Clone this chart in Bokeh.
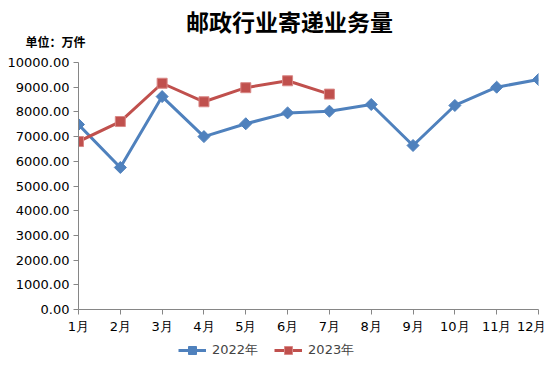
import math
from bokeh.plotting import figure
from bokeh.layouts import column
from bokeh.models import Label, Legend, LegendItem, FixedTicker, Range1d
from bokeh.embed import file_html
from bokeh.resources import INLINE

months = ["1月", "2月", "3月", "4月", "5月", "6月", "7月", "8月", "9月", "10月", "11月", "12月"]
y2022 = [7490, 5750, 8620, 7000, 7520, 7960, 8030, 8300, 6640, 8260, 9000, 9310]
y2023 = [6800, 7610, 9160, 8410, 8980, 9260, 8720]
y_ticks = [0, 1000, 2000, 3000, 4000, 5000, 6000, 7000, 8000, 9000, 10000]
title_text = "邮政行业寄递业务量"
unit_text = "单位：万件"
series_names = ["2022年", "2023年"]

BLUE = "#4F81BD"
RED = "#C0504D"
RED_EDGE = "#D98886"
AX = "#868686"
FONT = "DejaVu Sans"
CJK = "Noto Sans CJK SC"
W = 546


def blank_fig(height):
    f = figure(width=W, height=height, output_backend="svg", toolbar_location=None,
               x_range=Range1d(0, W), y_range=Range1d(height, 0),
               x_axis_type=None, y_axis_type=None, frame_align=False,
               min_border_left=0, min_border_right=0, min_border_top=0, min_border_bottom=0)
    f.outline_line_color = None
    f.xgrid.visible = False
    f.ygrid.visible = False
    return f


# ---- heading strip (title and unit) ----
top = blank_fig(54)
top.add_layout(Label(x=289, y=20, text=title_text, text_align="center", text_baseline="middle",
                     text_font=CJK, text_font_size="23px", text_font_style="bold", text_color="#000000"))
top.add_layout(Label(x=25, y=41, text=unit_text, text_align="left", text_baseline="middle",
                     text_font=CJK, text_font_size="12px", text_font_style="bold", text_color="#000000"))

# ---- main chart ----
x22 = list(range(1, len(y2022) + 1))
x23 = list(range(1, len(y2023) + 1))

p = figure(frame_width=460, frame_height=247, output_backend="svg", toolbar_location=None,
           x_range=Range1d(1, 12), y_range=Range1d(0, 10000), frame_align=False,
           min_border_left=78, min_border_right=8, min_border_top=8, min_border_bottom=28)
p.outline_line_color = None
p.xgrid.visible = False
p.ygrid.visible = False

for ax in (p.xaxis[0], p.yaxis[0]):
    ax.axis_line_color = AX
    ax.major_tick_line_color = AX
    ax.minor_tick_line_color = None
    ax.major_tick_out = 5
    ax.major_tick_in = 0
    ax.major_label_text_font = FONT
    ax.major_label_text_font_size = "13px"
    ax.major_label_text_color = "#000000"

p.xaxis.ticker = FixedTicker(ticks=x22)
p.xaxis.major_label_overrides = {i + 1: m for i, m in enumerate(months)}
p.xaxis.major_label_standoff = 4
p.yaxis.ticker = FixedTicker(ticks=y_ticks)
p.yaxis.major_label_overrides = {v: f"{v:.2f}" for v in y_ticks}
p.yaxis.major_label_standoff = 4

p.line(x22, y2022, line_color=BLUE, line_width=3)
p.scatter(x22, y2022, marker="square", angle=math.pi / 4, size=8.5, fill_color=BLUE, line_color=BLUE)
p.line(x23, y2023, line_color=RED, line_width=3)
p.scatter(x23, y2023, marker="square", size=10, fill_color=RED, line_color=RED_EDGE, line_width=1)

# ---- legend strip ----
leg = blank_fig(26)
off = [-100]
a1 = leg.line(off, off, line_color=BLUE, line_width=3)
b1 = leg.scatter(off, off, marker="square", angle=math.pi / 4, size=8.5, fill_color=BLUE, line_color=BLUE)
a2 = leg.line(off, off, line_color=RED, line_width=3)
b2 = leg.scatter(off, off, marker="square", size=10, fill_color=RED, line_color=RED_EDGE, line_width=1)
legend = Legend(items=[LegendItem(label=series_names[0], renderers=[a1, b1]),
                       LegendItem(label=series_names[1], renderers=[a2, b2])],
                orientation="horizontal", location=(178, 3),
                border_line_color=None, background_fill_alpha=0,
                padding=0, margin=0, spacing=16, glyph_width=28, glyph_height=20, label_standoff=6,
                label_text_font=FONT, label_text_font_size="13px")
leg.add_layout(legend, "center")

layout = column(top, p, leg, spacing=0)
open("out.html", "w").write(file_html(layout, INLINE))
